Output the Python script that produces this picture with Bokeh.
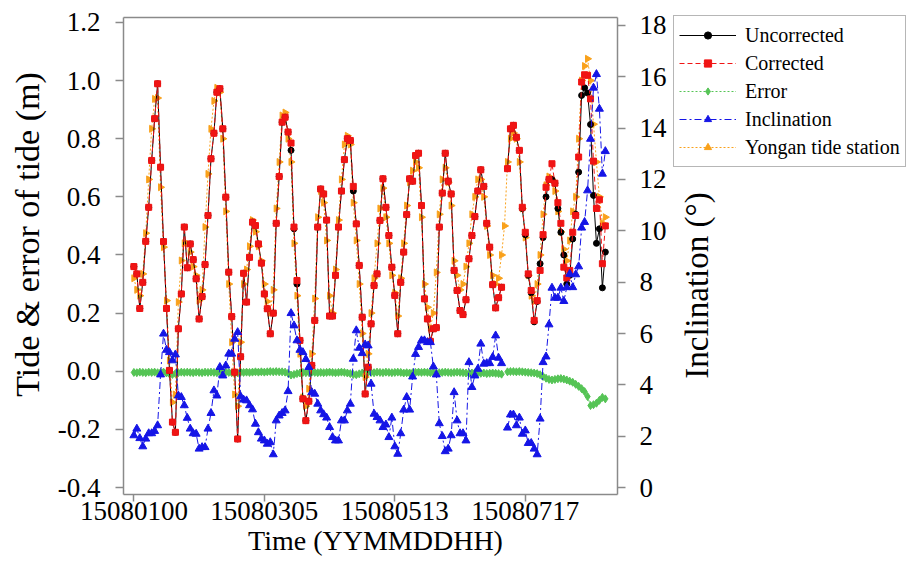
import math
import numpy as np
from bokeh.plotting import figure
from bokeh.models import (Range1d, LinearAxis, FixedTicker, Legend, LegendItem,
                          NumeralTickFormatter, ColumnDataSource, Label)
from bokeh.embed import file_html
from bokeh.resources import INLINE

nan = float("nan")

# ---------------- data ----------------
time_ticks = [0, 44, 88, 132]
time_tick_labels = ["15080100", "15080305", "15080513", "15080717"]
tide_ticks = [-0.4, -0.2, 0.0, 0.2, 0.4, 0.6, 0.8, 1.0, 1.2]
incl_ticks = [0, 2, 4, 6, 8, 10, 12, 14, 16, 18]

corrected = [
    0.36, 0.335, 0.216, 0.306, 0.447, 0.564, 0.725, 0.869, 0.989, 0.702,
    0.446, 0.216, 0.003, -0.175, -0.21, 0.146, 0.266, 0.496, 0.356, 0.438,
    0.384, 0.318, 0.18, 0.257, 0.367, 0.536, 0.731, 0.819, 0.96, 0.972,
    0.834, 0.599, 0.341, 0.188, -0.003, -0.233, 0.05, 0.337, 0.238, 0.392,
    0.513, 0.501, 0.438, 0.372, 0.266, 0.215, 0.129, 0.2, 0.509, 0.67,
    0.857, 0.874, 0.823, 0.785, 0.496, 0.312, 0.106, -0.095, -0.17, -0.103,
    0.02, 0.175, 0.496, 0.627, 0.61, 0.52, 0.19, 0.19, 0.33, 0.496,
    0.62, 0.728, 0.8, 0.794, 0.636, 0.507, 0.364, 0.186, -0.078, 0.014,
    0.163, 0.295, 0.335, 0.519, 0.662, 0.564, 0.467, 0.358, 0.261, 0.129,
    0.306, 0.41, 0.539, 0.662, 0.654, 0.742, 0.75, 0.57, 0.249, 0.18,
    0.103, 0.146, 0.15, 0.496, 0.613, 0.75, 0.654, 0.61, 0.347, 0.278,
    0.209, 0.195, 0.246, 0.387, 0.467, 0.532, 0.62, 0.693, 0.636, 0.509,
    0.427, 0.298, 0.218, 0.253, 0.289, nan, 0.697, 0.834, 0.846, 0.805,
    0.76, 0.564, 0.478, 0.335, 0.278, 0.175, 0.243, 0.347, 0.47, 0.633,
    0.66, 0.714, 0.647, 0.58, 0.509, 0.358, 0.321, 0.347, 0.478, 0.536,
    0.737, 0.995, 1.02, 1.018, 0.937, 0.723, 0.56, 0.59, 0.37, 0.50,
]

uncorrected = [
    0.36, 0.335, 0.216, 0.306, 0.447, 0.564, 0.725, 0.869, 0.989, 0.702,
    0.446, 0.216, 0.003, -0.175, -0.21, 0.146, 0.266, 0.496, 0.356, 0.438,
    0.384, 0.318, 0.18, 0.257, 0.367, 0.536, 0.731, 0.819, 0.96, 0.972,
    0.834, 0.599, 0.341, 0.188, -0.003, -0.233, 0.05, 0.337, 0.238, 0.392,
    0.513, 0.501, 0.438, 0.372, 0.266, 0.215, 0.129, 0.2, 0.509, 0.67,
    0.857, 0.874, 0.823, 0.76, 0.49, 0.30, 0.106, -0.095, -0.17, -0.103,
    0.02, 0.175, 0.496, 0.627, 0.61, 0.52, 0.19, 0.19, 0.33, 0.496,
    0.62, 0.728, 0.8, 0.794, 0.62, 0.507, 0.364, 0.186, -0.078, 0.014,
    0.163, 0.295, 0.335, 0.519, 0.662, 0.564, 0.467, 0.358, 0.261, 0.129,
    0.306, 0.41, 0.539, 0.662, 0.654, 0.742, 0.75, 0.57, 0.249, 0.18,
    0.103, 0.146, 0.15, 0.496, 0.613, 0.75, 0.654, 0.61, 0.347, 0.278,
    0.209, 0.195, 0.246, 0.387, 0.467, 0.532, 0.62, 0.693, 0.636, 0.509,
    0.427, 0.298, 0.218, 0.253, 0.289, nan, 0.697, 0.834, 0.846, 0.805,
    0.76, 0.56, 0.47, 0.33, 0.27, 0.17, 0.24, 0.37, 0.46, 0.60,
    0.66, 0.66, 0.647, 0.56, 0.478, 0.40, 0.30, 0.33, 0.455, 0.54,
    0.685, 0.949, 0.975, 0.957, 0.849, 0.605, 0.44, 0.49, 0.287, 0.41,
]

error = [
    -0.004, -0.005, -0.003, -0.004, -0.005, -0.003, -0.004, -0.003, -0.005, -0.004,
    -0.003, -0.006, -0.009, -0.011, -0.008, -0.005, -0.003, -0.004, -0.003, -0.004,
    -0.005, -0.003, -0.004, -0.005, -0.003, -0.004, -0.003, -0.004, -0.005, -0.003,
    -0.004, -0.003, -0.004, -0.005, -0.004, -0.006, -0.003, -0.004, -0.003, -0.004,
    -0.003, -0.002, -0.003, -0.002, -0.003, -0.002, -0.001, -0.002, -0.001, -0.002,
    -0.002, -0.003, -0.007, -0.013, -0.011, -0.008, -0.006, -0.004, -0.005, -0.004,
    -0.003, -0.004, -0.005, -0.004, -0.005, -0.004, -0.003, -0.004, -0.005, -0.004,
    -0.003, -0.004, -0.006, -0.008, -0.011, -0.012, -0.009, -0.006, -0.005, -0.004,
    -0.004, -0.005, -0.003, -0.004, -0.005, -0.003, -0.004, -0.005, -0.004, -0.003,
    -0.004, -0.006, -0.005, -0.006, -0.005, -0.004, -0.003, -0.004, -0.003, -0.004,
    -0.005, -0.004, -0.006, -0.005, -0.004, -0.003, -0.004, -0.005, -0.004, -0.003,
    -0.004, -0.005, -0.006, -0.007, -0.006, -0.005, -0.006, -0.007, -0.006, -0.008,
    -0.007, -0.006, -0.007, -0.008, -0.010, nan, -0.002, -0.001, -0.001, -0.002,
    -0.001, -0.002, -0.003, -0.004, -0.005, -0.006, -0.008, -0.012, -0.018, -0.024,
    -0.028, -0.030, -0.028, -0.026, -0.025, -0.027, -0.030, -0.034, -0.038, -0.045,
    -0.052, -0.060, -0.070, -0.087, -0.118, -0.115, -0.110, -0.100, -0.090, -0.095,
]

inclination = [
    2.03, 2.29, 1.92, 1.6, 1.9, 2.11, 2.11, 2.2, 2.42, 4.4,
    5.99, 5.36, 5.27, 4.95, 5.18, 3.58, 3.52, 3.2, 2.71, 2.29,
    2.11, 2.09, 1.51, 1.57, 1.57, 2.29, 2.9, 3.78, 3.58, 4.69,
    4.36, 4.75, 5.21, 5.21, 5.79, 6.05, 3.55, 3.42, 3.39, 3.2,
    3.04, 2.48, 2.15, 1.9, 1.83, 1.7, 1.76, 1.29, 2.61, 2.8,
    2.9, 3.0, 3.75, 6.79, 6.31, 5.73, 5.36, 5.27, 5.0, 4.69,
    3.71, 3.65, 3.26, 3.0, 2.85, 2.72, 2.35, 1.96, 1.83, 1.83,
    2.61, 2.61, 3.0, 3.26, 5.01, 6.12, 5.44, 5.23, 5.57, 5.53,
    4.04, 2.87, 2.74, 2.61, 2.35, 2.45, 1.96, 2.72, 1.6, 1.31,
    2.11, 3.03, 3.52, 3.03, 4.32, 5.2, 5.47, 5.73, 5.73, 5.66,
    5.66, 4.71, 4.4, 2.5, 2.0, 1.41, 1.51, 2.03, 3.71, 2.61,
    2.11, 2.11, 1.83, 4.88, 3.91, 4.36, 4.62, 5.6, 4.82, 4.84,
    4.84, 5.08, 5.92, 5.05, 4.84, nan, 2.33, 2.84, 2.84, 2.42,
    2.72, 2.09, 2.22, 1.73, 1.73, 1.51, 1.29, 2.68, 4.88, 5.1,
    6.35, 7.78, 7.39, 7.39, 7.78, 7.26, 7.8, 8.32, 7.8, 8.3,
    8.61, 10.12, 10.34, 11.57, 13.58, 15.57, 16.1, 14.75, 12.22, 13.1,
]

yongan = [
    0.32, 0.28, 0.26, 0.335, 0.475, 0.66, 0.834, 0.937, 0.94, 0.633,
    0.427, 0.243, 0.037, -0.107, -0.08, 0.238, 0.381, 0.44, 0.44, 0.41,
    0.36, 0.33, 0.243, 0.28, 0.496, 0.679, 0.834, 0.93, 0.975, 0.96,
    0.80, 0.55, 0.30, 0.10, -0.08, -0.12, 0.10, 0.30, 0.35, 0.43,
    0.52, 0.48, 0.43, 0.38, 0.30, 0.24, 0.20, 0.28, 0.56, 0.72,
    0.88, 0.89, 0.80, 0.72, 0.44, 0.26, 0.06, -0.09, -0.12, -0.06,
    0.06, 0.25, 0.53, 0.62, 0.58, 0.45, 0.26, 0.20, 0.35, 0.52,
    0.66, 0.78, 0.81, 0.78, 0.58, 0.45, 0.30, 0.13, -0.02, 0.06,
    0.20, 0.32, 0.44, 0.56, 0.63, 0.53, 0.44, 0.33, 0.27, 0.19,
    0.32, 0.44, 0.57, 0.65, 0.69, 0.72, 0.70, 0.53, 0.30, 0.22,
    0.15, 0.20, 0.34, 0.54, 0.66, 0.70, 0.65, 0.57, 0.38, 0.33,
    0.28, 0.30, 0.36, 0.44, 0.54, 0.60, 0.66, 0.66, 0.60, 0.50,
    0.40, 0.33, 0.30, 0.32, 0.40, 0.50, 0.72, 0.80, 0.82, 0.80,
    0.72, 0.56, 0.46, 0.33, 0.26, 0.24, 0.30, 0.40, 0.54, 0.64,
    0.67, 0.66, 0.62, 0.55, 0.48, 0.42, 0.38, 0.45, 0.55, 0.60,
    0.80, 1.00, 1.05, 1.075, 1.00, 0.85, 0.72, 0.60, 0.51, 0.53,
]

sample = list(range(len(corrected)))

# ---------------- layout constants ----------------
W, H = 909, 573
BOX_LEFT, BOX_RIGHT, BOX_TOP, BOX_BOTTOM = 123, 617, 17, 494   # pixel box of the plot
X0, X1 = -3.5, 163.1          # sample range visible inside the box
Y0, Y1 = -0.424, 1.217        # tide range
I0, I1 = -0.27, 18.31         # inclination range
BOX_W = BOX_RIGHT - BOX_LEFT
BOX_H = BOX_BOTTOM - BOX_TOP
# the frame spans the whole canvas so that axes, titles and legend are never clipped
ux = (X1 - X0) / BOX_W
uy = (Y1 - Y0) / BOX_H
ui = (I1 - I0) / BOX_H
X_START, X_END = X0 - BOX_LEFT * ux, X1 + (W - BOX_RIGHT) * ux
Y_START, Y_END = Y0 - (H - BOX_BOTTOM) * uy, Y1 + BOX_TOP * uy
I_START, I_END = I0 - (H - BOX_BOTTOM) * ui, I1 + BOX_TOP * ui

FONT = "Liberation Serif"
GRAY = "#8a8a8a"
RED = "#f01414"
GREEN = "#55c455"
BLUE = "#1515e6"
ORANGE = "#f9a11b"

src = ColumnDataSource(dict(
    t=sample,
    corrected=np.array(corrected, dtype=float),
    uncorrected=np.array(uncorrected, dtype=float),
    error=np.array(error, dtype=float),
    inclination=np.array(inclination, dtype=float),
    yongan=np.array(yongan, dtype=float),
))

p = figure(width=W, height=H, output_backend="svg", toolbar_location=None,
           x_range=Range1d(X_START, X_END), y_range=Range1d(Y_START, Y_END),
           min_border_left=0, min_border_right=0,
           min_border_top=0, min_border_bottom=0)
p.extra_y_ranges = {"incl": Range1d(I_START, I_END)}
p.grid.visible = False
p.background_fill_color = "white"
p.border_fill_color = "white"
p.outline_line_color = None


def style_axis(ax, label_size="27px"):
    ax.axis_line_color = GRAY
    ax.axis_line_width = 1.5
    ax.major_tick_line_color = GRAY
    ax.major_tick_line_width = 1.5
    ax.major_tick_in = 0
    ax.major_tick_out = 8
    ax.minor_tick_line_color = None
    ax.major_label_text_font = FONT
    ax.major_label_text_font_size = label_size
    ax.major_label_text_color = "black"


# left axis on the left edge of the box
yl = p.yaxis[0]
style_axis(yl)
yl.ticker = FixedTicker(ticks=tide_ticks)
yl.formatter = NumeralTickFormatter(format="0.0")
yl.fixed_location = X0
yl.bounds = (Y0, Y1)
yl.major_label_standoff = 15

# bottom axis on the bottom edge of the box
xb = p.xaxis[0]
style_axis(xb)
xb.ticker = FixedTicker(ticks=time_ticks)
xb.major_label_overrides = dict(zip(time_ticks, time_tick_labels))
xb.fixed_location = Y0
xb.bounds = (X0, X1)
xb.major_tick_out = 7
xb.major_label_standoff = 0

# top border of the box
xt = LinearAxis(ticker=FixedTicker(ticks=[]), bounds=(X0, X1), fixed_location=Y1)
xt.axis_line_color = GRAY
xt.axis_line_width = 1.5
xt.major_tick_line_color = None
xt.minor_tick_line_color = None
xt.major_label_text_font_size = "0px"
p.add_layout(xt, "above")

# right axis on the right edge of the box
yr = LinearAxis(y_range_name="incl", ticker=FixedTicker(ticks=incl_ticks),
                fixed_location=X1, bounds=(I0, I1))
style_axis(yr)
yr.major_label_standoff = 14
p.add_layout(yr, "right")

# axis titles (screen positions measured from the canvas bottom-left)
xtitle = Label(x=375, y=H - 540, x_units="screen", y_units="screen",
               text="Time (YYMMDDHH)", text_align="center", text_baseline="middle",
               text_font=FONT, text_font_size="28px", text_color="black")
p.add_layout(xtitle)
ytitle_l = Label(x=27, y=H - 234, x_units="screen", y_units="screen",
                 text="Tide & error of tide (m)", angle=math.pi / 2,
                 text_align="center", text_baseline="middle",
                 text_font=FONT, text_font_size="34px", text_color="black")
p.add_layout(ytitle_l)
ytitle_r = Label(x=696, y=H - 285, x_units="screen", y_units="screen",
                 text="Inclination (°)", angle=math.pi / 2,
                 text_align="center", text_baseline="middle",
                 text_font=FONT, text_font_size="33px", text_color="black")
p.add_layout(ytitle_r)

# ---------------- series ----------------
g_l = p.line("t", "error", source=src, line_color=GREEN, line_dash="2 2", line_width=1)
g_s = p.scatter("t", "error", source=src, marker="diamond", size=8,
                fill_color=GREEN, line_color=GREEN)

o_l = p.line("t", "yongan", source=src, line_color=ORANGE, line_dash="2 2", line_width=1)
o_s = p.scatter("t", "yongan", source=src, marker="triangle", angle=-math.pi / 2,
                size=7, fill_color=ORANGE, line_color=ORANGE)

k_l = p.line("t", "uncorrected", source=src, line_color="black", line_width=1)
k_s = p.scatter("t", "uncorrected", source=src, marker="circle", size=6,
                fill_color="black", line_color="black")

r_l = p.line("t", "corrected", source=src, line_color=RED, line_dash="5 3", line_width=1)
r_s = p.scatter("t", "corrected", source=src, marker="square", size=6,
                fill_color=RED, line_color=RED)

b_l = p.line("t", "inclination", source=src, line_color=BLUE, line_dash="7 3 2 3",
             line_width=1, y_range_name="incl")
b_s = p.scatter("t", "inclination", source=src, marker="triangle", size=8,
                fill_color=BLUE, line_color=BLUE, y_range_name="incl")

legend = Legend(items=[
    LegendItem(label="Uncorrected", renderers=[k_l, k_s]),
    LegendItem(label="Corrected", renderers=[r_l, r_s]),
    LegendItem(label="Error", renderers=[g_l, g_s]),
    LegendItem(label="Inclination", renderers=[b_l, b_s]),
    LegendItem(label="Yongan tide station", renderers=[o_l, o_s]),
], location=(673, H - 167), orientation="vertical")
legend.label_text_font = FONT
legend.label_text_font_size = "20px"
legend.label_text_color = "black"
legend.glyph_width = 57
legend.glyph_height = 18
legend.label_height = 28
legend.spacing = 0
legend.padding = 5
legend.margin = 0
legend.label_standoff = 9
legend.border_line_color = "#6e6e6e"
legend.border_line_width = 1.5
legend.background_fill_color = "white"
legend.background_fill_alpha = 1.0
p.add_layout(legend)

open("out.html", "w").write(file_html(p, INLINE))
